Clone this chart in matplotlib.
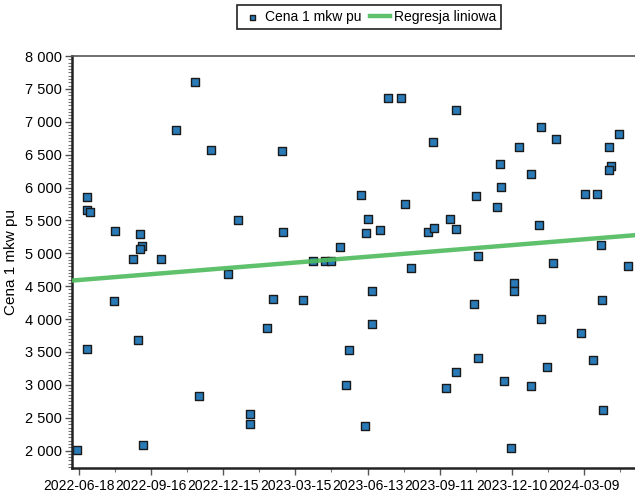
import numpy as np
import pandas as pd
import matplotlib
matplotlib.use('Agg')
import matplotlib.pyplot as plt
import matplotlib.dates as mdates
from matplotlib.ticker import MultipleLocator, FuncFormatter

# dane: data transakcji i cena 1 mkw
dates = ['2022-06-15', '2022-06-28', '2022-06-28', '2022-07-02', '2022-06-28', '2022-07-31',
         '2022-08-02', '2022-08-24', '2022-08-30', '2022-09-02', '2022-09-04', '2022-09-02',
         '2022-09-06', '2022-09-28', '2022-10-17', '2022-11-09', '2022-11-15', '2022-11-30',
         '2022-12-21', '2023-01-02', '2023-01-17', '2023-01-17', '2023-02-07', '2023-02-15',
         '2023-02-26', '2023-02-27', '2023-03-24', '2023-04-06', '2023-04-21', '2023-04-29',
         '2023-05-10', '2023-05-17', '2023-05-21', '2023-06-05', '2023-06-11', '2023-06-13',
         '2023-06-10', '2023-06-19', '2023-06-19', '2023-06-28', '2023-07-09', '2023-07-25',
         '2023-07-30', '2023-08-06', '2023-08-28', '2023-09-04', '2023-09-03', '2023-09-19',
         '2023-09-24', '2023-10-01', '2023-10-01', '2023-10-01', '2023-10-24', '2023-10-27',
         '2023-10-29', '2023-10-29', '2023-11-22', '2023-11-25', '2023-11-27', '2023-11-30',
         '2023-12-09', '2023-12-13', '2023-12-13', '2023-12-19', '2024-01-03', '2024-01-03',
         '2024-01-13', '2024-01-15', '2024-01-15', '2024-01-23', '2024-01-31', '2024-02-03',
         '2024-03-05', '2024-03-11', '2024-03-20', '2024-03-26', '2024-03-31', '2024-04-01',
         '2024-04-02', '2024-04-09', '2024-04-12', '2024-04-10', '2024-04-22', '2024-05-03']
prices = [2015, 5855, 5663, 5622, 3550, 4269,
          5343, 4910, 3687, 5298, 5116, 5065,
          2081, 4918, 6868, 7603, 2836, 6574,
          4690, 5511, 2558, 2410, 3865, 4310,
          6559, 5324, 4284, 4888, 4877, 4877,
          5096, 3003, 3535, 5891, 5309, 5521,
          2375, 4421, 3930, 5359, 7360, 7360,
          5754, 4777, 5318, 5384, 6692, 2953,
          5526, 5374, 3191, 7173, 4229, 5875,
          3401, 4959, 5708, 6357, 6008, 3053,
          2041, 4549, 4432, 6620, 6199, 2988,
          5435, 4002, 6918, 3272, 4853, 6737,
          3789, 5901, 3384, 5901, 5131, 4284,
          2612, 6620, 6321, 6271, 6813, 4812]

# linia regresji (poczatek i koniec)
reg_dates = ['2022-06-09', '2024-05-12']
reg_values = [4585, 5275]

xtick_labels = ['2022-06-18', '2022-09-16', '2022-12-15', '2023-03-15',
                '2023-06-13', '2023-09-11', '2023-12-10', '2024-03-09']

x = mdates.date2num(pd.to_datetime(dates))
y = np.array(prices)
xr = mdates.date2num(pd.to_datetime(reg_dates))

fnt = ['Liberation Sans', 'DejaVu Sans']
plt.rcParams['font.family'] = fnt

fig = plt.figure(figsize=(6.35, 4.94), dpi=100)
ax = fig.add_axes([0.1134, 0.0526, 0.8866, 0.834])

sc = ax.scatter(x, y, marker='s', s=36, facecolor='#2a7ab8', edgecolor='#1a1a1a',
                linewidth=1.0, zorder=2, label='Cena 1 mkw pu')
ln, = ax.plot(xr, reg_values, color='#4dbb5c', lw=3.2, alpha=0.9, zorder=3,
              label='Regresja liniowa')

ax.set_xlim(xr[0], xr[1])
ax.set_ylim(1734, 8000)

xt = mdates.date2num(pd.to_datetime(xtick_labels))
ax.set_xticks(xt)
ax.set_xticklabels(xtick_labels, fontsize=10)
ax.set_xticks(xt + 45, minor=True)
ax.yaxis.set_major_locator(MultipleLocator(500))
ax.yaxis.set_minor_locator(MultipleLocator(50))
ax.yaxis.set_major_formatter(FuncFormatter(lambda v, p: f'{int(v):,}'.replace(',', ' ')))
ax.tick_params(axis='y', which='major', labelsize=10.5)
ax.tick_params(axis='both', which='major', length=5, width=1, color='#555555', pad=2)
ax.tick_params(axis='x', which='major', pad=3)
ax.tick_params(axis='both', which='minor', length=3, width=0.8, color='#777777')

ax.spines['right'].set_visible(False)
ax.spines['left'].set_linewidth(1.8)
ax.spines['bottom'].set_linewidth(1.8)
ax.spines['left'].set_color('#222222')
ax.spines['bottom'].set_color('#222222')
ax.spines['top'].set_color('#555555')
ax.spines['top'].set_linewidth(1.2)

ax.set_ylabel('Cena 1 mkw pu', fontsize=11)
ax.yaxis.set_label_coords(-0.096, 0.5)

leg = fig.legend(handles=[sc, ln], loc='upper center', bbox_to_anchor=(369 / 635, 0.995),
                 ncol=2, fancybox=False, edgecolor='#222222', framealpha=1,
                 prop={'size': 10}, handlelength=1.4,
                 columnspacing=0.6, handletextpad=0.3, borderpad=0.35,
                 borderaxespad=0.2, markerscale=0.6)
leg.get_frame().set_linewidth(1.2)

fig.savefig('out.png', dpi=100)
